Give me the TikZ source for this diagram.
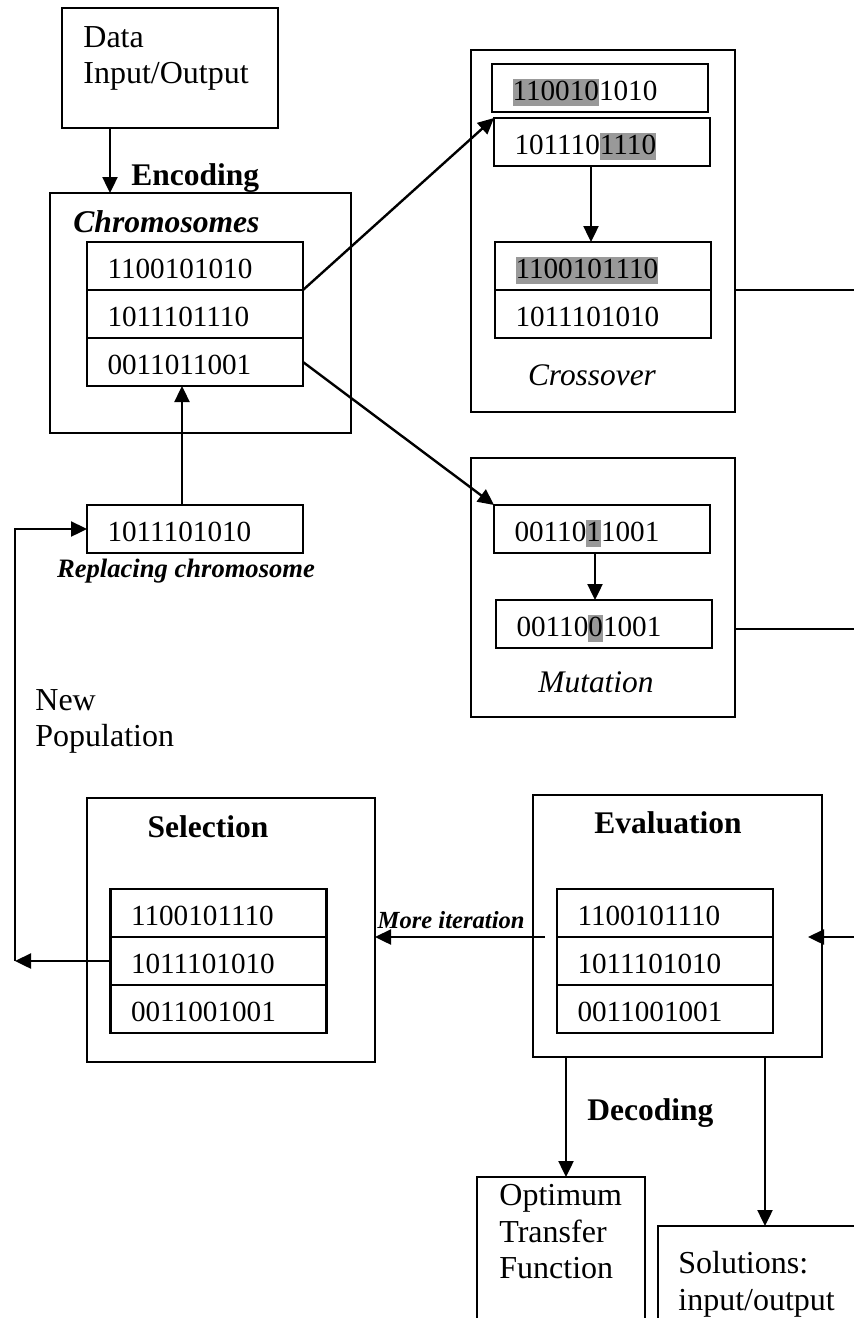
\documentclass[tikz,border=0pt]{standalone}
\usepackage{fontspec}
\setmainfont{Liberation Serif}
\usetikzlibrary{positioning,arrows.meta}
\definecolor{bitgray}{gray}{0.6}
\newcommand{\greybits}[1]{{\setlength{\fboxsep}{0pt}\colorbox{bitgray}{\rule[-3pt]{0pt}{13.5pt}#1}}}

\begin{document}
\begin{tikzpicture}[x=0.5pt, y=-0.5pt,
    box/.style={draw, line width=1.2pt, rectangle, outer sep=0pt},
    bitrow/.style={box, minimum height=24pt, text width=87.5pt, inner xsep=10.25pt, inner ysep=0pt,
        text height=13.5pt, text depth=1.5pt, align=left, font=\fontsize{14.6}{17}\selectfont},
    plain/.style={inner sep=0pt, font=\fontsize{16}{18.3}\selectfont},
    titleb/.style={inner sep=0pt, font=\fontsize{15.75}{18}\selectfont\bfseries},
    titlebi/.style={inner sep=0pt, font=\fontsize{15.8}{18}\selectfont\bfseries\itshape},
    itlab/.style={inner sep=0pt, font=\fontsize{15.7}{18}\selectfont\itshape},
    bilab/.style={inner sep=0pt, font=\fontsize{13.3}{16}\selectfont\bfseries\itshape},
    smalllab/.style={inner sep=0pt, font=\fontsize{12.3}{14}\selectfont\bfseries\itshape},
    arr/.style={line width=1.2pt, -{Triangle[length=8pt,width=7.5pt]}},
    conn/.style={line width=1.2pt}]
    \useasboundingbox (0,0) rectangle (854,1318);
    \clip (0,0) rectangle (854,1318);

    % data in/out
    \node[box, minimum width=108pt, minimum height=60pt] (data) at (170,68) {};
    \node[plain, anchor=north west, align=left] (datatxt) at (83,26) {Data\\Input/Output};

    % chromosomes
    \node[box, minimum width=150.5pt, minimum height=120pt] (chromo) at (200.5,313) {};
    \node[titleb, anchor=base west] (enc) at (131,185) {Encoding};
    \node[titlebi, anchor=base west] (chromotitle) at (73,232) {Chromosomes};
    \node[bitrow] (c1) at (195,266) {1100101010};
    \node[bitrow, below=0pt of c1] (c2) {1011101110};
    \node[bitrow, below=0pt of c2] (c3) {0011011001};

    % crossover
    \node[box, minimum width=132pt, minimum height=181pt] (xover) at (603,231) {};
    \node[bitrow] (p1) at (600,88) {\greybits{110010}1010};
    \node[bitrow] (p2) at (602,142) {101110\greybits{1110}};
    \node[bitrow] (ch1) at (603,266) {\greybits{1100101110}};
    \node[bitrow, below=0pt of ch1] (ch2) {1011101010};
    \node[itlab, anchor=base] (xlab) at (592,385) {Crossover};

    % mutation
    \node[box, minimum width=132pt, minimum height=129.5pt] (mut) at (603,587.5) {};
    \node[bitrow] (m1) at (602,529) {00110\greybits{1}1001};
    \node[bitrow] (m2) at (604,624) {00110\greybits{0}1001};
    \node[itlab, anchor=base] (mlab) at (596,692) {Mutation};

    % replacing
    \node[bitrow] (rep) at (195,529) {1011101010};
    \node[bilab, anchor=base] (replab) at (186,577) {Replacing chromosome};
    \node[plain, anchor=north west, align=left] (newpop) at (35,689) {New\\Population};

    % selection
    \node[box, minimum width=144pt, minimum height=132pt] (sel) at (231,930) {};
    \node[titleb, anchor=base] (seltitle) at (208,837) {Selection};
    \node[bitrow] (s1) at (218.5,913) {1100101110};
    \node[bitrow, below=0pt of s1] (s2) {1011101010};
    \node[bitrow, below=0pt of s2] (s3) {0011001001};

    % evaluation
    \node[box, minimum width=144.5pt, minimum height=131pt] (eval) at (677.5,926) {};
    \node[titleb, anchor=base] (evaltitle) at (668,833) {Evaluation};
    \node[bitrow] (e1) at (665,913) {1100101110};
    \node[bitrow, below=0pt of e1] (e2) {1011101010};
    \node[bitrow, below=0pt of e2] (e3) {0011001001};
    \node[titleb, anchor=base west] (dec) at (587,1120) {Decoding};

    % outputs
    \node[box, minimum width=84pt, minimum height=81.5pt] (opt) at (561,1258.5) {};
    \node[plain, anchor=north west, align=left] (opttxt) at (499,1184) {Optimum\\Transfer\\Function};
    \node[box, minimum width=121pt, minimum height=57pt] (sol) at (779,1283) {};
    \node[plain, anchor=north west, align=left] (soltxt) at (678,1251) {Solutions:\\input/output};

    \coordinate (xout) at (854,290);
    \coordinate (mout) at (854,629);
    \coordinate (evalin) at (854,937);
    \coordinate (loop) at (15,961);

    % connectors
    \draw[arr] ([xshift=24pt]data.south west) -- ([xshift=24pt]data.south west |- chromo.north);
    \draw[arr] (c1.south east) -- (p2.north west);
    \draw[arr] (c3.east) -- (m1.north west);
    \draw[arr] ([xshift=-5.5pt]p2.south) -- ([xshift=-5.5pt]p2.south |- ch1.north);
    \draw[arr] ([xshift=-3.5pt]m1.south) -- ([xshift=-3.5pt]m1.south |- m2.north);
    \draw[arr] ([xshift=-6.5pt]rep.north) -- ([xshift=-6.5pt]rep.north |- c3.south);
    \draw[arr] (s2.west) -- (loop);
    \draw[arr] (loop) |- (rep.west);
    \draw[arr] ([xshift=-6pt]e1.south west) -- (sel.east |- e1.south);
    \node[smalllab, anchor=base east] (morelab) at (525,928) {More iteration};
    \draw[arr] (evalin) -- ([xshift=-7pt]eval.east |- evalin);
    \draw[conn] (xover.east |- xout) -- (xout);
    \draw[conn] (mut.east |- mout) -- (mout);
    \draw[arr] ([xshift=2.5pt]opt.north |- eval.south) -- ([xshift=2.5pt]opt.north);
    \draw[arr] ([xshift=-7pt]sol.north |- eval.south) -- ([xshift=-7pt]sol.north);
\end{tikzpicture}
\end{document}
